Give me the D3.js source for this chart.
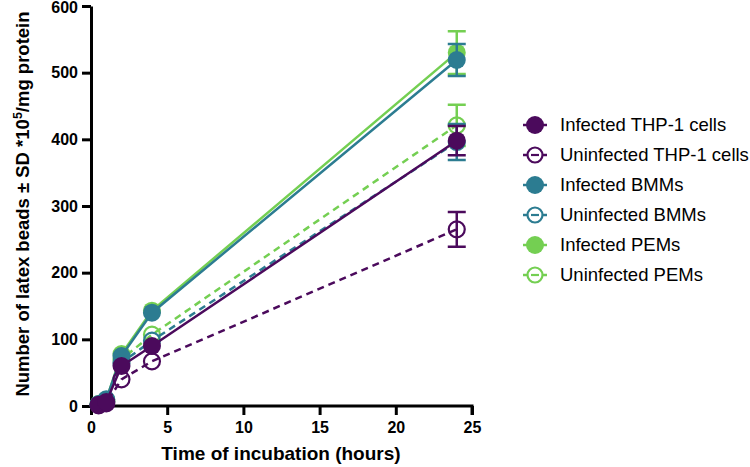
<!DOCTYPE html>
<html>
<head>
<meta charset="utf-8">
<script src="https://cdn.jsdelivr.net/npm/d3@7"></script>
<style>
  body { margin: 0; background: #fff; }
  text { font-family: "Liberation Sans", Arial, sans-serif; }
</style>
</head>
<body>
<svg id="chart" width="750" height="467"></svg>
<script>
// time points (hours)
const times = [0.5, 1, 2, 4, 24];

// series: means and SDs
const thpInf = [2, 6, 60, 90, 398];
const thpInfSd = [0, 0, 0, 0, 22];
const thpUninf = [1, 4, 40, 67, 265];
const thpUninfSd = [0, 0, 0, 0, 26];
const bmmInf = [3, 10, 75, 140, 519];
const bmmInfSd = [0, 0, 0, 0, 24];
const bmmUninf = [2, 7, 65, 98, 396];
const bmmUninfSd = [0, 0, 0, 0, 27];
const pemInf = [3, 9, 78, 143, 530];
const pemInfSd = [0, 0, 0, 0, 32];
const pemUninf = [2, 7, 70, 107, 421];
const pemUninfSd = [0, 0, 0, 0, 31];

const seriesNames = ["Infected THP-1 cells", "Uninfected THP-1 cells", "Infected BMMs",
  "Uninfected BMMs", "Infected PEMs", "Uninfected PEMs"];

const xTicks = [0, 5, 10, 15, 20, 25];
const yTicks = [0, 100, 200, 300, 400, 500, 600];

const purple = "#4b0a5c", teal = "#2c7c91", green = "#74cf52";

let series = [
  {name: seriesNames[0], vals: thpInf, sd: thpInfSd, color: purple, open: false},
  {name: seriesNames[1], vals: thpUninf, sd: thpUninfSd, color: purple, open: true},
  {name: seriesNames[2], vals: bmmInf, sd: bmmInfSd, color: teal, open: false},
  {name: seriesNames[3], vals: bmmUninf, sd: bmmUninfSd, color: teal, open: true},
  {name: seriesNames[4], vals: pemInf, sd: pemInfSd, color: green, open: false},
  {name: seriesNames[5], vals: pemUninf, sd: pemUninfSd, color: green, open: true}
];

const svg = d3.select("#chart");
const x = d3.scaleLinear().domain([0, 25]).range([91, 472]);
const y = d3.scaleLinear().domain([0, 600]).range([406, 6]);

// axes
let xAxis = svg.append("g")
  .attr("transform", "translate(0,406)")
  .call(d3.axisBottom(x).tickValues(xTicks).tickSize(9).tickPadding(7).tickSizeOuter(0));
let yAxis = svg.append("g")
  .attr("transform", "translate(91,0)")
  .call(d3.axisLeft(y).tickValues(yTicks).tickSize(9).tickPadding(4).tickSizeOuter(0));
[xAxis, yAxis].forEach(a => {
  a.select(".domain").attr("stroke", "#000").attr("stroke-width", 3);
  a.selectAll(".tick line").attr("stroke", "#000").attr("stroke-width", 3);
  a.selectAll(".tick text").attr("fill", "#000")
    .style("font-size", "16px").style("font-weight", "bold")
    .style("font-family", "'Liberation Sans', Arial, sans-serif");
});
// make the x domain line join the y axis
xAxis.select(".domain").attr("d", "M" + (x(0) - 1.5) + ",0H" + x(25) + "V9");
// keep the top label inside the picture
yAxis.selectAll(".tick text").filter(d => d === 600).attr("dy", "0.4em");

// series (drawn last-to-first so THP-1 sits on top)
let g = svg.append("g");
series.slice().reverse().forEach(s => {
  let pts = times.map((t, i) => ({t: t, v: s.vals[i], sd: s.sd[i]}));
  let sg = g.append("g");
  sg.append("path")
    .datum(pts)
    .attr("fill", "none")
    .attr("stroke", s.color)
    .attr("stroke-width", 2.5)
    .attr("stroke-dasharray", s.open ? "7,5" : null)
    .attr("d", d3.line().x(d => x(d.t)).y(d => y(d.v)));
  // error bars
  pts.filter(d => d.sd > 0).forEach(d => {
    let cx = x(d.t);
    sg.append("path")
      .attr("fill", "none").attr("stroke", s.color).attr("stroke-width", 2.5)
      .attr("d", "M" + cx + "," + y(d.v + d.sd) + "V" + y(d.v - d.sd)
        + "M" + (cx - 9) + "," + y(d.v + d.sd) + "H" + (cx + 9)
        + "M" + (cx - 9) + "," + y(d.v - d.sd) + "H" + (cx + 9));
  });
  sg.selectAll("circle").data(pts).enter().append("circle")
    .attr("cx", d => x(d.t)).attr("cy", d => y(d.v))
    .attr("r", s.open ? 8 : 9)
    .attr("fill", s.open ? "#fff" : s.color)
    .attr("fill-opacity", s.open ? 0 : 1)
    .attr("stroke", s.color)
    .attr("stroke-width", s.open ? 2.2 : 0);
});

// legend
let leg = svg.append("g");
series.forEach((s, i) => {
  let ly = 125 + i * 30;
  let lg = leg.append("g").attr("transform", "translate(0," + ly + ")");
  lg.append("line").attr("x1", 523).attr("x2", 547).attr("y1", 0).attr("y2", 0)
    .attr("stroke", s.color).attr("stroke-width", 2.5);
  lg.append("circle").attr("cx", 535).attr("cy", 0)
    .attr("r", s.open ? 7.5 : 9)
    .attr("fill", s.open ? "#fff" : s.color)
    .attr("stroke", s.color).attr("stroke-width", s.open ? 2.2 : 0);
  if (s.open) {
    lg.append("line").attr("x1", 531).attr("x2", 539).attr("y1", 0).attr("y2", 0)
      .attr("stroke", s.color).attr("stroke-width", 2.2);
  }
  lg.append("text").attr("x", 560).attr("y", 0).attr("dy", "0.35em")
    .style("font-size", "18.5px").attr("fill", "#000").text(s.name);
});

// axis titles
svg.append("text").attr("x", 281).attr("y", 460).attr("text-anchor", "middle")
  .style("font-size", "19px").style("font-weight", "bold").text("Time of incubation (hours)");
let yt = svg.append("text")
  .attr("transform", "translate(29,204) rotate(-90)")
  .attr("text-anchor", "middle")
  .style("font-size", "18.5px").style("font-weight", "bold");
yt.append("tspan").text("Number of latex beads \u00b1 SD *10");
yt.append("tspan").attr("dy", "-7").style("font-size", "12.5px").text("5");
yt.append("tspan").attr("dy", "7").text("/mg protein");
</script>
</body>
</html>
